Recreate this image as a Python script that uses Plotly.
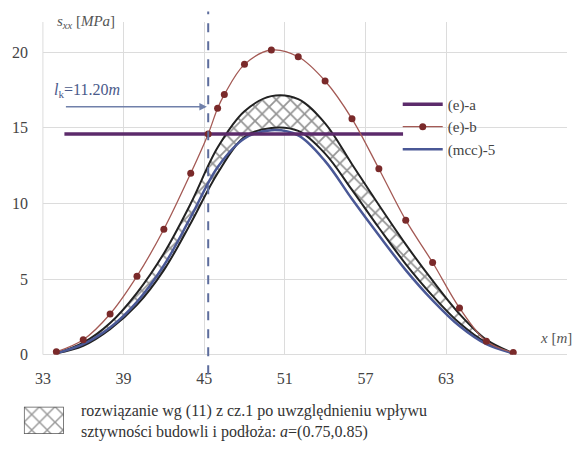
import plotly.graph_objects as go

# ---- data ----
x_pts = [34, 36, 38, 40, 42, 44, 46, 48, 50, 52, 54, 56, 58, 60, 62, 64, 66, 68]
band_lower = [0.1, 0.6, 1.7, 3.3, 5.6, 8.7, 12.0, 14.4, 15.0, 14.8, 13.3, 10.9, 8.4, 6.0, 3.9, 2.1, 0.8, 0.1]
band_upper = [0.1, 0.8, 2.1, 4.1, 6.7, 10.0, 13.7, 16.1, 17.1, 16.9, 15.3, 12.6, 9.9, 7.3, 4.9, 2.7, 1.0, 0.1]
mcc5 = [0.1, 0.7, 1.8, 3.5, 5.9, 9.1, 12.4, 14.3, 14.85, 14.5, 12.8, 10.3, 7.9, 5.6, 3.6, 1.9, 0.7, 0.1]

eb_x = [34, 36, 38, 40, 42, 44, 45.3, 46, 46.5, 48, 50, 52, 54, 56, 58, 60, 62, 64, 66, 68]
eb_y = [0.2, 1.0, 2.7, 5.2, 8.3, 12.0, 14.6, 16.3, 17.2, 19.2, 20.15, 19.7, 18.1, 15.6, 12.3, 8.9, 6.1, 3.1, 0.9, 0.15]

ea_x = [34.6, 59.8]
ea_y = [14.6, 14.6]

lk_x = 45.3          # position of dashed line
lk_arrow_start = 34.6
lk_arrow_y = 16.4
lk_label = "<i>l</i><sub>k</sub>=11.20<i>m</i>"

x_ticks = [33, 39, 45, 51, 57, 63]
y_ticks = [0, 5, 10, 15, 20]

SERIF = "Liberation Serif"

fig = go.Figure()

# hatched band
fig.add_trace(go.Scatter(x=x_pts, y=band_lower, mode="lines", line=dict(color="#222", width=2, shape="spline"),
                         showlegend=False, hoverinfo="skip"))
fig.add_trace(go.Scatter(x=x_pts, y=band_upper, mode="lines", line=dict(color="#222", width=2, shape="spline"),
                         fill="tonexty", fillcolor="white",
                         fillpattern=dict(shape="x", fgcolor="#2a2a2a", bgcolor="white", size=10, solidity=0.32),
                         showlegend=False, hoverinfo="skip"))

fig.add_trace(go.Scatter(x=x_pts, y=mcc5, mode="lines", name="(mcc)-5", legendrank=3,
                         line=dict(color="#4a5896", width=2.5, shape="spline")))
fig.add_trace(go.Scatter(x=ea_x, y=ea_y, mode="lines", name="(e)-a", legendrank=1,
                         line=dict(color="#5c2b6b", width=3.5)))
fig.add_trace(go.Scatter(x=eb_x, y=eb_y, mode="lines+markers", name="(e)-b", legendrank=2,
                         line=dict(color="#a45a55", width=1.3, shape="spline"),
                         marker=dict(color="#7a2a2a", size=7)))

# legend swatch for the hatched band (small hidden axes)
fig.add_trace(go.Scatter(x=[0, 1, 1, 0, 0], y=[0, 0, 1, 1, 0], xaxis="x2", yaxis="y2", mode="lines",
                         line=dict(color="#555", width=1.5), fill="toself", fillcolor="white",
                         fillpattern=dict(shape="x", fgcolor="#333", bgcolor="white", size=11, solidity=0.25),
                         showlegend=False, hoverinfo="skip"))

grid = "#dcdcdc"
fig.update_layout(
    width=581, height=452,
    margin=dict(l=10, r=14, t=22, b=4),
    paper_bgcolor="white", plot_bgcolor="white",
    font=dict(family=SERIF, size=16, color="#444"),
    xaxis=dict(range=[33, 72], domain=[0.0557, 1], tickvals=x_ticks, showgrid=True, gridcolor=grid,
               zeroline=False, showline=False, ticks="", ticklabelstandoff=12,
               tickfont=dict(family=SERIF, size=16, color="#444")),
    yaxis=dict(range=[0, 22], domain=[0.2019, 1], tickvals=y_ticks, showgrid=True, gridcolor=grid,
               zeroline=True, zerolinecolor=grid, zerolinewidth=1, showline=False, ticks="",
               ticklabelstandoff=14, tickfont=dict(family=SERIF, size=16, color="#444")),
    xaxis2=dict(domain=[0.0215, 0.0934], range=[0, 1], visible=False, anchor="y2"),
    yaxis2=dict(domain=[0.0117, 0.0775], range=[0, 1], visible=False, anchor="x2"),
    legend=dict(x=0.695, y=0.842, xanchor="left", yanchor="top", bgcolor="rgba(255,255,255,0)",
                traceorder="normal",
                font=dict(family=SERIF, size=15, color="#444"), tracegroupgap=0,
                itemwidth=40),
    shapes=[
        dict(type="line", xref="x", yref="paper", x0=lk_x, x1=lk_x, y0=0.155, y1=1.025,
             line=dict(color="#5d6d9d", width=2, dash="dash")),
        dict(type="line", xref="paper", yref="y", x0=0.0557, x1=0.0557, y0=0, y1=22,
             line=dict(color=grid, width=1)),
    ],
    annotations=[
        dict(x=lk_x - 0.1, y=lk_arrow_y, ax=lk_arrow_start, ay=lk_arrow_y, xref="x", yref="y",
             axref="x", ayref="y", text="", showarrow=True, arrowhead=2, arrowsize=1,
             arrowwidth=1.5, arrowcolor="#7080aa"),
        dict(x=33.7, y=17.5, xref="x", yref="y", text=lk_label, showarrow=False, xanchor="left",
             yanchor="middle", font=dict(family=SERIF, size=16, color="#4a5a8a")),
        dict(x=33.9, y=22, xref="x", yref="y", text="<i>s</i><sub><i>xx</i></sub> [<i>MPa</i>]",
             showarrow=False, xanchor="left", yanchor="middle", font=dict(family=SERIF, size=15, color="#555")),
        dict(x=71.2, y=1.1, xref="x", yref="y", text="<i>x</i> [<i>m</i>]", showarrow=False,
             xanchor="center", yanchor="middle", font=dict(family=SERIF, size=15, color="#555")),
        dict(x=0.12, y=0.042, xref="paper", yref="paper", xanchor="left", yanchor="middle", align="left",
             showarrow=False,
             text="rozwiązanie wg (11) z cz.1 po uwzględnieniu wpływu<br>sztywności budowli i podłoża: <i>a</i>=(0.75,0.85)",
             font=dict(family=SERIF, size=16, color="#333")),
    ],
)

fig.write_html("out.html")
